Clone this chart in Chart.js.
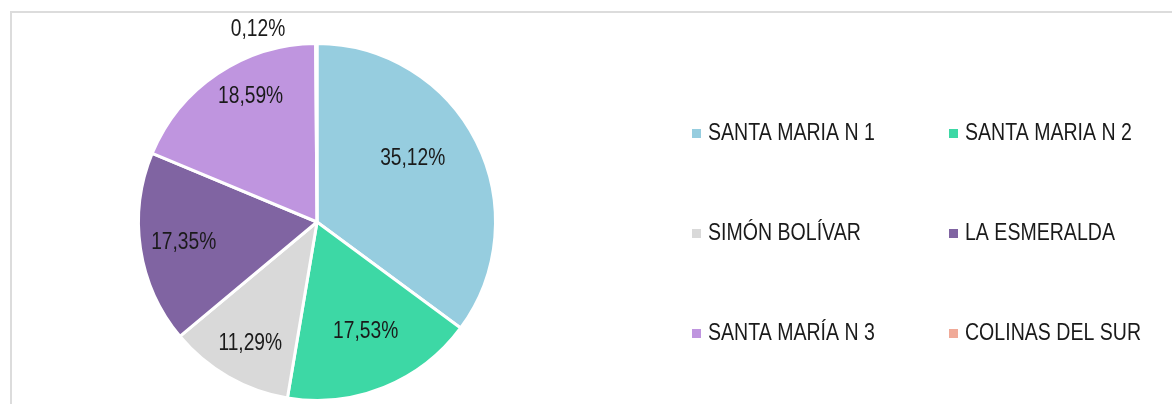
<!DOCTYPE html>
<html>
<head>
<meta charset="utf-8">
<script src="https://cdn.jsdelivr.net/npm/chart.js@4.4.1/dist/chart.umd.min.js"></script>
<style>
  html, body { margin: 0; padding: 0; background: #fff; }
  #wrap { position: relative; width: 1172px; height: 404px; overflow: hidden; }
  #frame { position: absolute; left: 10px; top: 11px; right: -5px; bottom: -5px;
           border-top: 2px solid #dcdcdc; border-left: 2px solid #dcdcdc; }
  canvas { position: absolute; left: 0; top: 0; }
</style>
</head>
<body>
<div id="wrap">
  <div id="frame"></div>
  <canvas id="pieChart" width="1172" height="404"></canvas>
</div>
<script>
// Data
const barrios = [
  "SANTA MARIA N 1",
  "SANTA MARIA N 2",
  "SIMÓN BOLÍVAR",
  "LA ESMERALDA",
  "SANTA MARÍA N 3",
  "COLINAS DEL SUR",
];
const porcentajes = [35.12, 17.53, 11.29, 17.35, 18.59, 0.12];
const colores = ["#96cddf", "#3dd8a5", "#d9d9d9", "#8064a2", "#bf95df", "#f0aa98"];

const FONT = '"Liberation Sans", Arial, sans-serif';

// narrow text: squeeze horizontally like Arial Narrow
function narrowText(ctx, txt, x, y, scaleX, align) {
  ctx.save();
  ctx.translate(x, y);
  ctx.scale(scaleX, 1);
  ctx.textAlign = align;
  ctx.fillText(txt, 0, 0);
  ctx.restore();
}

// labels drawn on the slices
const sliceLabels = {
  id: "sliceLabels",
  afterDatasetsDraw(chart, args, opts) {
    const ctx = chart.ctx;
    const arcs = chart.getDatasetMeta(0).data;
    ctx.save();
    ctx.font = opts.size + "px " + FONT;
    ctx.fillStyle = "#1a1a1a";
    ctx.textBaseline = "middle";
    arcs.forEach((arc, i) => {
      const p = arc.getProps(["x", "y", "startAngle", "endAngle", "outerRadius"], true);
      const txt = porcentajes[i].toFixed(2).replace(".", ",") + "%";
      let mid = (p.startAngle + p.endAngle) / 2;
      if (porcentajes[i] < 1) {
        // tiny slice: label outside, above the pie
        const r = p.outerRadius + 16;
        narrowText(ctx, txt, p.x + Math.cos(mid) * r - 31, p.y + Math.sin(mid) * r + 2, opts.scaleX, "right");
      } else {
        mid += (opts.shift[i] * Math.PI) / 180;
        const r = p.outerRadius * opts.radius[i];
        narrowText(ctx, txt, p.x + Math.cos(mid) * r, p.y + Math.sin(mid) * r, opts.scaleX, "center");
      }
    });
    ctx.restore();
  },
};

// two column legend on the right
const gridLegend = {
  id: "gridLegend",
  afterDraw(chart, args, opts) {
    const ctx = chart.ctx;
    const labels = chart.data.labels;
    ctx.save();
    ctx.font = opts.size + "px " + FONT;
    ctx.textBaseline = "middle";
    labels.forEach((lab, i) => {
      const col = i % 2;
      const row = Math.floor(i / 2);
      const x = opts.x[col];
      const y = opts.y[row];
      ctx.fillStyle = colores[i];
      ctx.fillRect(x, y - 4, 9, 9);
      ctx.fillStyle = "#1a1a1a";
      narrowText(ctx, lab, x + 16, y + 1, opts.scaleX, "left");
    });
    ctx.restore();
  },
};

const ctx = document.getElementById("pieChart").getContext("2d");
const pieChart = new Chart(ctx, {
  type: "pie",
  data: {
    labels: barrios,
    datasets: [
      {
        data: porcentajes,
        backgroundColor: colores,
        borderColor: "#ffffff",
        borderWidth: 3,
      },
    ],
  },
  options: {
    responsive: false,
    animation: false,
    layout: {
      padding: { left: 137, right: 675, top: 42, bottom: 2 },
    },
    plugins: {
      legend: { display: false },
      tooltip: { enabled: false },
      sliceLabels: {
        size: 24,
        scaleX: 0.8,
        radius: [0.645, 0.67, 0.775, 0.755, 0.795],
        shift: [-7, -2, -1, 0, 6],
      },
      gridLegend: { size: 23, scaleX: 0.85, x: [692, 949], y: [133, 233, 333] },
    },
  },
  plugins: [sliceLabels, gridLegend],
});
</script>
</body>
</html>
